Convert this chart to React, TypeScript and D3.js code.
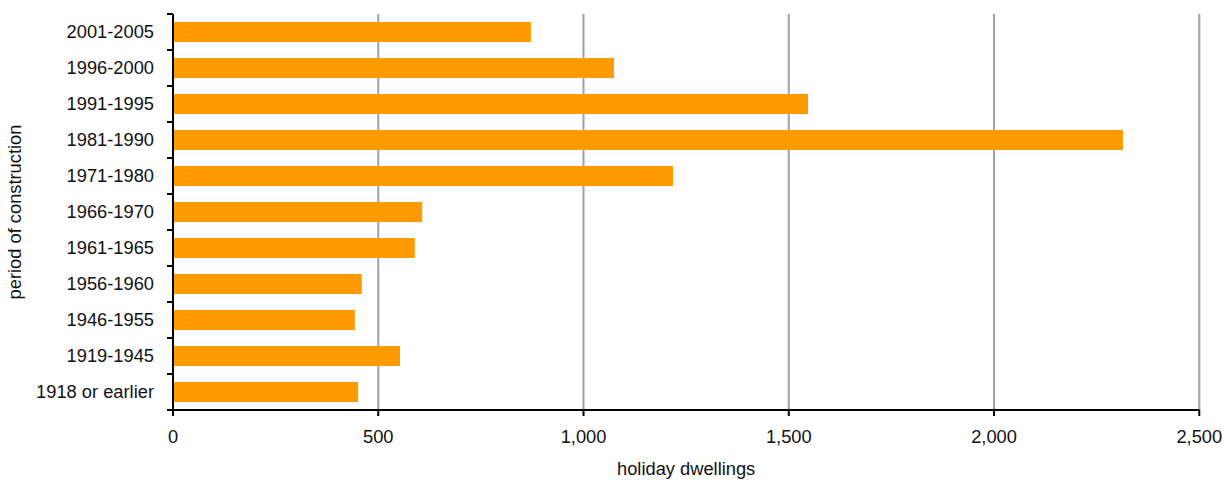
import React from "react";
import * as d3 from "d3";

const categories = [
  "2001-2005",
  "1996-2000",
  "1991-1995",
  "1981-1990",
  "1971-1980",
  "1966-1970",
  "1961-1965",
  "1956-1960",
  "1946-1955",
  "1919-1945",
  "1918 or earlier",
];
const values = [872, 1074, 1547, 2314, 1218, 607, 589, 460, 443, 553, 451];
const xTicks = [0, 500, 1000, 1500, 2000, 2500];
const xTitle = "holiday dwellings";
const yTitle = "period of construction";

const W = 1230;
const H = 480;
const left = 173;
const right = 1199.3;
const top = 14;
const bottom = 410;
const font = "'Liberation Sans', Arial, sans-serif";
const fs = 18.3;

export default function App() {
  const x = d3.scaleLinear().domain([0, 2500]).range([left, right]);
  const y = d3.scaleBand<string>().domain(categories).range([top, bottom]).paddingInner(0.4444).paddingOuter(0.2222);
  const bandStep = y.step();
  const fmt = d3.format(",");
  return (
    <svg width={W} height={H} style={{ position: "absolute", left: 0, top: 0 }}>
      <rect width={W} height={H} fill="#fff" />
      {xTicks.slice(1).map((t) => (
        <line key={"g" + t} x1={x(t)} x2={x(t)} y1={top} y2={bottom} stroke="#a0a0a0" strokeWidth={2} />
      ))}
      {categories.map((c, i) => (
        <rect key={c} x={x(0)} y={y(c)} width={x(values[i]) - x(0)} height={y.bandwidth()} fill="#ff9b00" />
      ))}
      {/* y axis */}
      <line x1={left} x2={left} y1={top} y2={bottom + 6} stroke="#000" strokeWidth={2} />
      {d3.range(categories.length + 1).map((i) => (
        <line key={"yt" + i} x1={left - 6} x2={left} y1={top + i * bandStep} y2={top + i * bandStep} stroke="#000" strokeWidth={2} />
      ))}
      {categories.map((c) => (
        <text key={"yl" + c} x={154} y={(y(c) as number) + y.bandwidth() / 2} dy="0.35em" textAnchor="end" fontFamily={font} fontSize={fs} fill="#111">
          {c}
        </text>
      ))}
      {/* x axis */}
      <line x1={left - 6} x2={right} y1={bottom} y2={bottom} stroke="#000" strokeWidth={2} />
      {xTicks.map((t) => (
        <g key={"xt" + t}>
          <line x1={x(t)} x2={x(t)} y1={bottom} y2={bottom + 6} stroke="#000" strokeWidth={2} />
          <text x={x(t)} y={443} textAnchor="middle" fontFamily={font} fontSize={fs} fill="#111">
            {fmt(t)}
          </text>
        </g>
      ))}
      <text x={(left + right) / 2} y={475} textAnchor="middle" fontFamily={font} fontSize={fs} fill="#111">
        {xTitle}
      </text>
      <text transform={`translate(21, ${(top + bottom) / 2}) rotate(-90)`} textAnchor="middle" fontFamily={font} fontSize={fs} fill="#111">
        {yTitle}
      </text>
    </svg>
  );
}
